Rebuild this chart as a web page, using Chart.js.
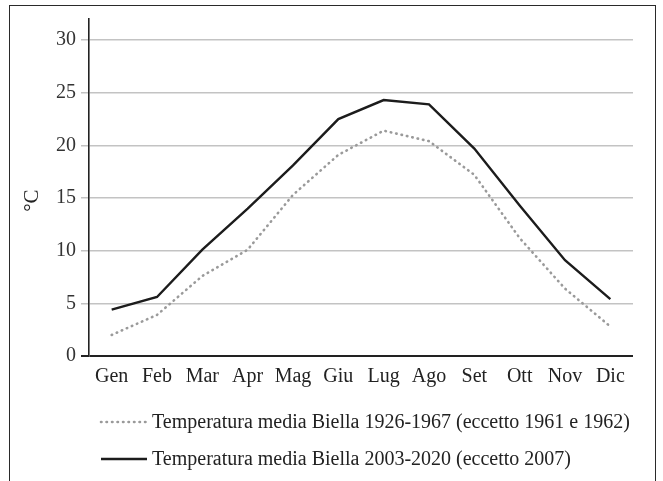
<!DOCTYPE html>
<html>
<head>
<meta charset="utf-8">
<script src="https://cdn.jsdelivr.net/npm/chart.js@4.4.1/dist/chart.umd.min.js"></script>
<style>
  body { margin: 0; background: #fff; }
  #cornice { position: absolute; left: 9px; top: 5px; width: 645px; height: 520px; border: 1.5px solid #2a2a2a; }
  #grafico { position: absolute; left: 0; top: 0; }
</style>
</head>
<body>
<div id="cornice"></div>
<canvas id="grafico" width="663" height="481"></canvas>
<script>
// mesi e temperature medie (°C)
const mesi = ['Gen', 'Feb', 'Mar', 'Apr', 'Mag', 'Giu', 'Lug', 'Ago', 'Set', 'Ott', 'Nov', 'Dic'];
const temp_1926_1967 = [2.0, 3.9, 7.6, 10.1, 15.3, 19.1, 21.4, 20.4, 17.2, 11.2, 6.4, 2.8];
const temp_2003_2020 = [4.4, 5.6, 10.1, 14.0, 18.1, 22.5, 24.3, 23.9, 19.7, 14.3, 9.1, 5.4];
const etichette = [
    'Temperatura media Biella 1926-1967 (eccetto 1961 e 1962)',
    'Temperatura media Biella 2003-2020 (eccetto 2007)'
];

const FONT = "'Liberation Serif', 'Times New Roman', serif";

// legenda disegnata sotto al grafico, una voce per riga
const legendaSotto = {
    id: 'legendaSotto',
    afterDraw(chart) {
        const ctx = chart.ctx;
        chart.data.datasets.forEach(function (ds, i) {
            const y = 422 + i * 37;
            ctx.save();
            ctx.strokeStyle = ds.borderColor;
            ctx.lineWidth = ds.borderWidth;
            ctx.lineCap = ds.borderCapStyle || 'butt';
            ctx.setLineDash(ds.borderDash || []);
            ctx.beginPath();
            ctx.moveTo(101, y);
            ctx.lineTo(147, y);
            ctx.stroke();
            ctx.setLineDash([]);
            ctx.fillStyle = '#222';
            ctx.font = '20px ' + FONT;
            ctx.textBaseline = 'middle';
            ctx.fillText(ds.label, 152, y + 1);
            ctx.restore();
        });
    }
};

const ctx = document.getElementById('grafico').getContext('2d');
const myChart = new Chart(ctx, {
    type: 'line',
    data: {
        labels: mesi,
        datasets: [{
            label: etichette[0],
            data: temp_1926_1967,
            borderColor: '#9a9a9a',
            borderWidth: 2.6,
            borderDash: [0.5, 5],
            borderCapStyle: 'round',
            pointRadius: 0,
            tension: 0
        }, {
            label: etichette[1],
            data: temp_2003_2020,
            borderColor: '#1c1c1c',
            borderWidth: 2.4,
            pointRadius: 0,
            tension: 0
        }]
    },
    options: {
        responsive: false,
        animation: false,
        layout: {
            padding: { top: 19, right: 30, bottom: 94, left: 0 }
        },
        plugins: {
            legend: { display: false },
            tooltip: { enabled: false }
        },
        scales: {
            x: {
                offset: true,
                grid: { display: false, drawTicks: false },
                border: { display: false },
                ticks: {
                    color: '#222',
                    padding: 9,
                    maxRotation: 0,
                    font: { family: FONT, size: 20 }
                },
                afterFit: function (scale) { scale.height = 31; }
            },
            y: {
                min: 0,
                max: 32,
                grid: {
                    color: function (c) { return c.tick && c.tick.value === 0 ? '#222' : '#c3c3c3'; },
                    lineWidth: function (c) { return c.tick && c.tick.value === 0 ? 2 : 1.5; },
                    tickLength: 8
                },
                border: { color: '#222', width: 1.6 },
                ticks: {
                    stepSize: 5,
                    includeBounds: false,
                    color: '#333',
                    padding: 5,
                    font: { family: FONT, size: 20 }
                },
                title: {
                    display: true,
                    text: '°C     ',
                    color: '#222',
                    padding: { top: 20, bottom: 0 },
                    font: { family: FONT, size: 21 }
                },
                afterFit: function (scale) { scale.width = 89; }
            }
        }
    },
    plugins: [legendaSotto]
});
</script>
</body>
</html>
